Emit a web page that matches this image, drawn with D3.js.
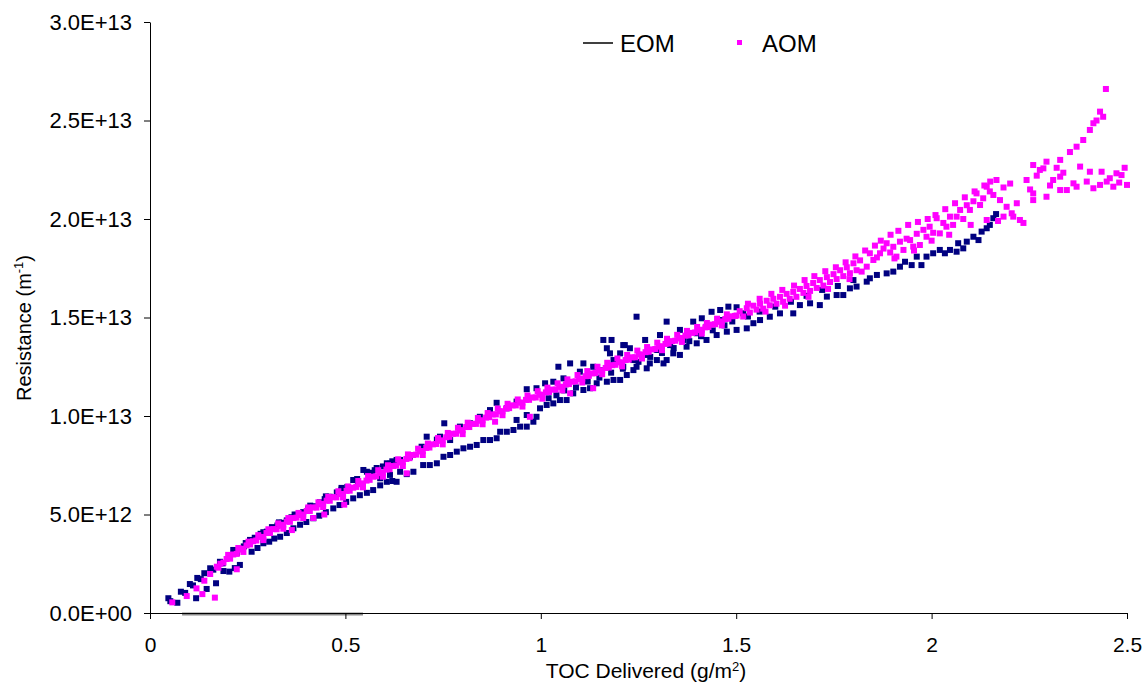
<!DOCTYPE html>
<html>
<head>
<meta charset="utf-8">
<script src="https://cdn.jsdelivr.net/npm/d3@7"></script>
<style>
  body { margin: 0; background: #fff; }
  svg text { font-family: "Liberation Sans", Arial, sans-serif; fill: #000; }
</style>
</head>
<body>
<script>
// axis ticks
const xTicks = [0, 0.5, 1, 1.5, 2, 2.5];
const yTicks = [0, 5e12, 1e13, 1.5e13, 2e13, 2.5e13, 3e13];

// point values: x in g/m2, y in units of 1E+12 m^-1
const yUnit = 1e12;

// EOM line (sits on the x axis)
const eomLine = [[0.082, 0], [0.545, 0]];

// navy squares
const eomPoints = [
  [0.047,0.75],[0.052,0.60],[0.070,0.52],[0.079,1.08],[0.090,1.02],[0.102,1.47],[0.110,1.40],
  [0.118,0.75],[0.121,1.78],[0.130,1.72],[0.139,2.02],[0.145,1.22],[0.154,2.27],[0.162,2.20],
  [0.169,1.51],[0.179,2.60],[0.186,2.52],[0.188,2.13],[0.203,2.10],[0.213,3.20],[0.217,2.28],
  [0.230,2.44],
  // upper band, low x
  [0.222,3.05],[0.240,3.38],[0.256,3.71],[0.268,3.82],[0.283,4.02],[0.299,4.13],[0.312,4.36],
  [0.326,4.44],[0.338,4.58],[0.350,4.70],[0.362,4.86],[0.375,4.98],[0.392,5.12],[0.405,5.30],
  [0.418,5.42],[0.435,5.62],[0.447,5.78],[0.460,5.90],[0.478,6.12],[0.490,6.26],[0.505,6.40],
  [0.520,6.75],[0.532,6.66],[0.546,7.26],[0.555,7.17],[0.568,7.12],[0.580,7.36],[0.596,7.44],
  [0.614,7.58],[0.631,7.77],
  [0.245,3.55],[0.290,4.10],[0.330,4.60],[0.370,5.00],[0.410,5.45],[0.450,5.92],[0.490,6.35],
  [0.530,6.80],[0.575,7.25],[0.620,7.70],
  // lower band, low x
  [0.260,3.11],[0.275,3.30],[0.290,3.54],[0.305,3.62],[0.318,3.78],[0.333,3.87],[0.350,4.06],
  [0.367,4.30],[0.384,4.48],[0.400,4.62],[0.418,4.81],[0.433,4.94],[0.450,5.12],[0.469,5.31],
  [0.485,5.48],[0.502,5.64],[0.520,5.82],[0.537,5.98],[0.555,6.10],[0.571,6.24],[0.589,6.48],
  [0.606,6.66],[0.620,6.70],[0.631,6.66],
  // lower band
  [0.589,6.84],[0.614,7.01],[0.640,7.17],[0.657,7.05],[0.674,7.17],[0.699,7.51],[0.716,7.51],
  [0.734,7.60],[0.751,7.93],[0.768,8.02],[0.785,8.19],[0.802,8.36],[0.819,8.44],[0.836,8.53],
  [0.853,8.78],[0.870,8.78],[0.887,8.87],[0.896,9.20],[0.913,9.20],[0.930,9.29],[0.938,9.80],
  [0.947,9.46],[0.964,9.46],[0.964,10.05],[0.981,9.71],[0.989,9.96],[0.998,10.39],[1.015,10.56],
  [1.032,10.64],[1.049,10.81],[1.066,10.81],[1.083,11.15],[1.109,11.32],[1.126,11.41],[1.143,11.66],
  [1.169,11.74],[1.186,11.83],[1.203,11.83],[1.220,12.08],[1.237,12.33],[1.245,12.50],[1.271,12.42],
  [1.297,12.84],[1.322,12.84],[1.339,13.18],[1.356,13.10],[1.373,13.52],[1.399,13.69],[1.424,13.86],
  [1.450,14.11],[1.476,14.28],[1.501,14.37],[1.527,14.45],[1.544,14.71],[1.561,14.87],[1.586,15.04],
  [1.612,15.21],[1.646,15.21],[1.663,15.63],[1.689,15.72],[1.714,15.63],[1.732,16.06],[1.757,16.14],
  [1.774,16.14],[1.791,16.48],[1.808,16.57],[1.834,16.82],[1.842,16.99],[1.860,17.16],[1.885,17.24],
  [1.902,17.33],[1.919,17.58],[1.932,17.83],[1.949,17.66],[1.962,18.09],[1.974,17.66],[1.987,18.09],
  [2.004,18.26],[2.021,18.43],[2.034,18.26],[2.047,18.43],[2.064,18.34],[2.068,18.77],[2.081,18.51],
  [2.090,18.85],[2.107,19.10],[2.120,18.93],[2.128,19.36],[2.141,19.53],[2.149,19.70],[2.158,20.04],
  [2.165,20.25],
  [1.020,10.90],[1.040,11.05],[1.060,11.30],[1.090,11.45],[1.120,11.75],[1.150,11.95],[1.180,12.20],
  [1.210,12.40],[1.250,12.75],[1.280,13.00],[1.310,13.20],[1.340,13.45],[1.380,13.80],[1.410,14.05],
  [1.440,14.35],[1.470,14.60],[1.490,14.80],[1.530,15.05],[1.560,15.30],[1.600,15.55],[1.640,15.80],
  [1.680,16.10],[1.720,16.40],[1.760,16.60],[1.800,16.90],
  // upper band / outliers
  [0.606,7.60],[0.640,7.77],[0.665,7.93],[0.695,8.44],[0.708,8.95],[0.734,8.80],[0.742,8.95],
  [0.753,9.63],[0.768,8.78],[0.793,9.46],[0.819,9.63],[0.844,9.96],[0.870,10.30],[0.887,10.67],
  [0.913,10.39],[0.938,10.73],[0.964,11.36],[0.989,11.41],[1.011,11.66],[1.032,11.74],[1.045,12.50],
  [1.058,11.91],[1.075,12.67],[1.100,12.25],[1.109,12.67],[1.134,12.50],[1.151,12.33],[1.160,13.86],
  [1.169,13.44],[1.177,13.18],[1.181,13.86],[1.186,12.84],[1.203,13.18],[1.211,12.50],[1.215,13.60],
  [1.228,13.44],[1.245,15.04],[1.211,13.60],[1.237,12.84],[1.267,13.86],[1.271,13.10],[1.279,12.67],
  [1.297,13.35],[1.305,14.11],[1.314,12.67],[1.322,14.79],[1.331,13.60],[1.356,14.37],[1.365,13.86],
  [1.390,14.79],[1.399,14.20],[1.412,14.96],[1.424,14.53],[1.437,15.29],[1.459,14.87],[1.459,15.38],
  [1.480,15.55],[1.501,15.52],[1.518,15.21]
];

// magenta squares
const aomPoints = [
  [0.057,0.54],[0.094,0.86],[0.119,1.25],[0.134,0.96],[0.139,1.64],[0.166,0.78],[0.154,1.98],
  [0.175,2.30],[0.222,2.22],
  [0.171,2.35],[0.180,2.50],[0.188,2.56],[0.196,2.74],[0.205,2.76],[0.213,2.97],[0.222,3.00],
  [0.230,3.22],[0.238,3.26],[0.247,3.43],[0.256,3.48],[0.264,3.64],[0.272,3.68],[0.281,3.86],
  [0.290,3.86],[0.298,4.06],[0.307,4.06],[0.316,4.26],[0.324,4.25],[0.333,4.44],[0.341,4.48],
  [0.350,4.64],[0.358,4.63],[0.367,4.82],[0.375,4.84],[0.384,4.98],[0.392,5.00],[0.401,5.18],
  [0.409,5.18],[0.418,5.36],[0.426,5.35],[0.435,5.52],[0.443,5.54],[0.452,5.70],[0.460,5.70],
  [0.469,5.88],[0.477,5.87],[0.486,6.04],[0.494,6.04],[0.503,6.20],[0.511,6.21],[0.520,6.36],
  [0.528,6.40],[0.537,6.54],[0.545,6.58],[0.554,6.72],[0.562,6.76],[0.571,6.92],[0.579,6.94],
  [0.588,7.10],[0.596,7.12],[0.605,7.28],[0.613,7.30],[0.622,7.46],[0.630,7.48],[0.639,7.64],
  [0.647,7.66],[0.656,7.82],[0.664,7.86],[0.673,8.02],[0.681,8.04],[0.690,8.20],[0.698,8.22],
  [0.707,8.38],[0.715,8.40],[0.724,8.56],[0.732,8.58],[0.741,8.74],[0.749,8.76],[0.758,8.92],
  [0.766,8.94],[0.775,9.10],[0.783,9.10],[0.792,9.26],[0.800,9.28],[0.809,9.44],[0.817,9.44],
  [0.826,9.60],[0.834,9.60],[0.843,9.76],[0.851,9.78],[0.860,9.92],[0.868,9.94],[0.877,10.08],
  [0.885,10.08],[0.894,10.24],[0.902,10.24],[0.911,10.38],[0.919,10.40],[0.928,10.54],[0.936,10.54],
  [0.945,10.68],[0.953,10.68],[0.962,10.82],[0.970,10.82],[0.979,10.94],[0.987,10.94],[0.996,11.08],
  [1.004,11.08],[1.013,11.20],[1.021,11.22],[1.030,11.34],[1.038,11.34],[1.047,11.48],[1.055,11.48],
  [1.064,11.60],[1.072,11.62],[1.081,11.74],[1.089,11.76],[1.098,11.88],[1.106,11.90],[1.115,12.02],
  [1.123,12.04],[1.132,12.16],[1.140,12.18],[1.149,12.30],[1.157,12.32],[1.166,12.44],[1.174,12.46],
  [1.183,12.58],[1.191,12.60],[1.200,12.72],[1.208,12.72],[1.217,12.84],[1.225,12.86],[1.234,12.98],
  [1.242,12.98],[1.251,13.12],[1.259,13.12],[1.268,13.24],[1.276,13.26],[1.285,13.38],[1.293,13.40],
  [1.302,13.52],[1.310,13.54],[1.319,13.66],[1.327,13.68],[1.336,13.80],[1.344,13.82],[1.353,13.94],
  [1.361,13.96],[1.370,14.08],[1.378,14.10],[1.387,14.22],[1.395,14.24],[1.404,14.36],[1.412,14.38],
  [1.421,14.50],[1.429,14.52],[1.438,14.64],[1.446,14.66],[1.455,14.78],[1.463,14.80],[1.472,14.92],
  [1.480,14.94],[1.489,15.06],[1.497,15.08],
  // upper edge of the band
  [0.200,2.95],[0.226,3.30],[0.252,3.62],[0.277,3.95],[0.303,4.25],[0.328,4.55],[0.354,4.82],
  [0.380,5.08],[0.405,5.36],[0.431,5.62],[0.456,5.90],[0.482,6.18],[0.507,6.42],[0.533,6.70],
  [0.558,6.95],[0.584,7.25],[0.609,7.50],[0.635,7.80],[0.660,8.05],[0.686,8.34],[0.711,8.60],
  [0.737,8.88],[0.762,9.14],[0.788,9.40],[0.813,9.66],[0.839,9.90],[0.864,10.15],[0.890,10.38],
  [0.915,10.62],[0.941,10.84],[0.966,11.04],[0.992,11.26],[1.017,11.44],[1.043,11.66],[1.068,11.86],
  [1.094,12.08],[1.119,12.28],[1.145,12.50],[1.170,12.70],[1.196,12.92],[1.221,13.10],[1.247,13.32],
  [1.272,13.50],[1.298,13.72],[1.323,13.92],[1.349,14.12],[1.374,14.32],[1.400,14.52],[1.425,14.72],
  [1.451,14.94],[1.476,15.16],
  // lower edge of the band
  [0.239,3.10],[0.290,3.70],[0.341,4.28],[0.392,4.82],[0.443,5.38],[0.494,5.86],[0.545,6.38],
  [0.596,6.92],[0.647,7.46],[0.698,8.02],[0.749,8.56],[0.800,9.08],[0.851,9.58],[0.902,10.04],
  [0.953,10.48],[1.004,10.88],[1.055,11.30],[1.106,11.70],[1.157,12.12],[1.208,12.52],[1.259,12.92],
  [1.310,13.34],[1.361,13.76],[1.412,14.18],[1.463,14.60],
  // below-band strays
  [0.363,4.21],[0.418,4.82],[0.446,5.00],[0.497,5.50],[0.657,7.09],[0.883,9.71],[0.972,9.96],
  [1.075,11.15],[1.134,11.41],
  // wider spread at high x
  [1.501,15.10],[1.509,15.32],[1.518,15.05],[1.527,15.47],[1.535,15.25],[1.544,15.60],[1.552,15.40],
  [1.561,15.70],[1.569,15.45],[1.578,15.85],[1.586,15.62],[1.595,15.95],[1.603,15.70],[1.612,16.05],
  [1.620,15.80],[1.629,16.20],[1.637,15.95],[1.646,16.30],[1.654,16.05],[1.663,16.45],[1.672,16.25],
  [1.680,16.60],[1.689,16.35],[1.697,16.75],[1.706,16.50],[1.714,16.90],[1.723,16.62],[1.732,17.05],
  [1.740,16.80],[1.749,17.20],[1.757,16.95],[1.766,17.40],[1.774,17.10],[1.783,17.55],[1.791,17.25],
  [1.800,17.75],[1.808,17.40],[1.817,17.90],[1.821,17.33],[1.834,17.58],[1.842,18.26],[1.851,17.92],
  [1.860,18.05],[1.868,18.26],[1.877,18.50],[1.885,18.77],[1.894,18.30],[1.902,18.59],[1.910,18.09],
  [1.919,18.85],[1.928,18.43],[1.936,19.00],[1.945,18.93],[1.953,18.60],[1.962,19.25],[1.970,18.68],
  [1.979,19.45],[1.987,19.10],[1.995,19.61],[2.004,19.30],[2.013,20.04],[2.021,19.27],[2.030,19.80],
  [2.038,19.61],[2.047,20.12],[2.055,19.70],[2.064,20.12],[2.073,20.46],[2.081,20.00],[2.090,20.70],
  [2.098,20.46],[2.107,20.90],[2.115,21.30],[2.124,20.71],[2.132,21.05],[2.141,21.64],[2.141,19.95],
  [2.149,21.40],[2.158,21.22],[2.166,21.98],[2.175,20.96],[2.184,20.12],[2.184,21.60],[2.192,20.62],
  [2.201,21.80],[2.205,20.29],[2.209,20.12],[2.218,20.80],[2.226,19.95],[2.235,19.80],[2.243,21.98],
  [2.252,21.50],[2.260,20.96],[2.260,22.74],[2.260,21.30],[2.269,22.20],[2.277,22.49],[2.286,22.57],
  [2.294,21.13],[2.294,22.91],[2.303,21.70],[2.311,21.98],[2.320,22.60],[2.329,23.00],[2.329,21.47],
  [2.329,22.15],[2.337,22.35],[2.346,21.47],[2.354,23.40],[2.363,21.81],[2.371,23.67],[2.371,21.64],
  [2.380,22.66],[2.388,24.01],[2.397,21.90],[2.405,24.52],[2.405,22.40],[2.414,24.86],[2.414,21.56],
  [2.422,25.00],[2.431,25.45],[2.431,21.73],[2.435,22.40],[2.439,25.19],[2.446,26.60],[2.448,21.90],
  [2.456,22.07],[2.465,21.64],[2.473,22.32],[2.480,21.85],[2.486,22.23],[2.494,22.60],[2.500,21.73],
  [1.530,15.70],[1.560,15.95],[1.590,16.20],[1.618,16.40],[1.648,16.62],[1.675,16.90],[1.700,17.10],
  [1.728,17.35],[1.755,17.55],[1.780,17.80],[1.805,18.10],[1.830,18.40],[1.855,18.65],[1.575,15.30],
  [1.625,15.60],[1.685,16.05],[1.735,16.45],[1.790,16.95],
  [1.870,18.90],[1.895,19.20],[1.915,19.40],[1.940,19.70],[1.965,19.85],[1.990,20.00],[2.010,20.20],
  [2.035,20.50],[2.060,20.80],[2.085,21.10],[2.110,21.40],[2.135,21.70],[2.150,21.90],[1.905,18.00],
  [1.955,18.40],[2.000,18.90],[2.045,19.20],[2.100,19.70],[2.170,19.90]
];

const margin = { top: 22, right: 20, bottom: 79, left: 150 };
const w = 1147 - margin.left - margin.right;
const h = 692 - margin.top - margin.bottom;

const root = d3.select("body").append("svg")
  .attr("width", 1147)
  .attr("height", 692);

const svg = root.append("g")
  .attr("transform", "translate(" + margin.left + "," + margin.top + ")");

const xScale = d3.scaleLinear().domain([0, 2.5]).range([0, w]);
const yScale = d3.scaleLinear().domain([0, 3e13]).range([h, 0]);

// E notation like 5.0E+12 / 0.0E+00
function sci(v) {
  const s = d3.format(".1e")(v).toUpperCase();
  return s.replace(/E([+-])(\d+)$/, function (m, sign, exp) {
    return "E" + sign + (exp.length < 2 ? "0" + exp : exp);
  });
}

const sq = 6;

svg.append("g").selectAll("rect")
  .data(eomPoints)
  .enter()
  .append("rect")
  .attr("x", d => xScale(d[0]) - sq / 2)
  .attr("y", d => yScale(d[1] * yUnit) - sq / 2)
  .attr("width", sq)
  .attr("height", sq)
  .attr("fill", "#000080");

svg.append("g").selectAll("rect")
  .data(aomPoints)
  .enter()
  .append("rect")
  .attr("x", d => xScale(d[0]) - sq / 2)
  .attr("y", d => yScale(d[1] * yUnit) - sq / 2)
  .attr("width", sq)
  .attr("height", sq)
  .attr("fill", "#ff00ff");

// EOM line
svg.append("path")
  .datum(eomLine)
  .attr("fill", "none")
  .attr("stroke", "#8a8a8a")
  .attr("stroke-width", 3)
  .attr("d", d3.line().x(d => xScale(d[0])).y(d => yScale(d[1] * yUnit) + 1));

// axes
const xAxis = d3.axisBottom(xScale)
  .tickValues(xTicks)
  .tickFormat(d => String(d))
  .tickSize(6)
  .tickSizeOuter(0)
  .tickPadding(18);
svg.append("g")
  .attr("class", "x-axis")
  .attr("transform", "translate(0," + h + ")")
  .call(xAxis);

const yAxis = d3.axisLeft(yScale)
  .tickValues(yTicks)
  .tickFormat(sci)
  .tickSize(6)
  .tickSizeOuter(0)
  .tickPadding(12);
svg.append("g")
  .attr("class", "y-axis")
  .call(yAxis);

svg.selectAll(".x-axis text, .y-axis text")
  .attr("font-family", "Liberation Sans, Arial, sans-serif")
  .attr("fill", "#000");
svg.selectAll(".y-axis text").attr("font-size", 22);
svg.selectAll(".x-axis text").attr("font-size", 21);
svg.selectAll(".domain, .tick line").attr("stroke", "#000");

// axis titles
const xTitle = root.append("text")
  .attr("x", 646)
  .attr("y", 678)
  .attr("text-anchor", "middle")
  .attr("font-size", 21);
xTitle.append("tspan").text("TOC Delivered (g/m");
xTitle.append("tspan").attr("font-size", 13).attr("dy", -7).text("2");
xTitle.append("tspan").attr("dy", 7).text(")");

const yTitle = root.append("text")
  .attr("transform", "translate(31,328) rotate(-90)")
  .attr("text-anchor", "middle")
  .attr("font-size", 20);
yTitle.append("tspan").text("Resistance (m");
yTitle.append("tspan").attr("font-size", 13).attr("dy", -8).text("-1");
yTitle.append("tspan").attr("dy", 8).text(")");

// legend
const legend = root.append("g");
legend.append("line")
  .attr("x1", 583).attr("x2", 613)
  .attr("y1", 43).attr("y2", 43)
  .attr("stroke", "#000")
  .attr("stroke-width", 1.5);
legend.append("text")
  .attr("x", 620).attr("y", 52)
  .attr("font-size", 24)
  .text("EOM");
legend.append("rect")
  .attr("x", 737).attr("y", 40)
  .attr("width", 5).attr("height", 5)
  .attr("fill", "#ff00ff");
legend.append("text")
  .attr("x", 762).attr("y", 52)
  .attr("font-size", 24)
  .text("AOM");
</script>
</body>
</html>
